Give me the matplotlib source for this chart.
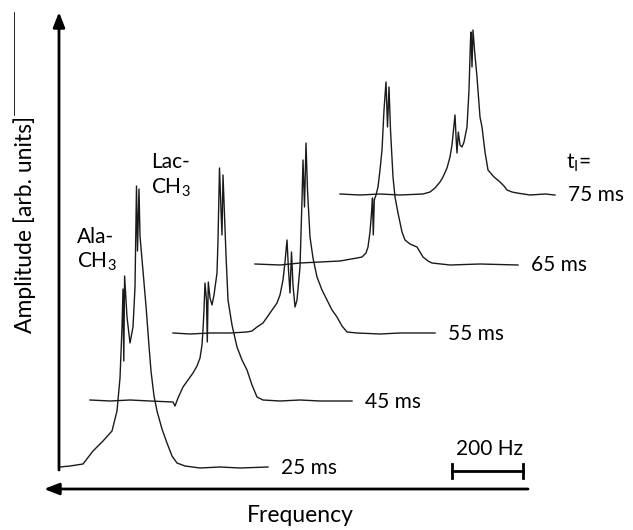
import matplotlib
matplotlib.use("Agg")
import matplotlib.pyplot as plt

plt.rcParams['font.family'] = ['Lato', 'DejaVu Sans']

# spectra, each one: frequency positions and amplitude above its own baseline
freq_25 = [60, 70, 83, 93, 103, 112, 117, 120, 122, 123, 123.8, 124.6, 127, 130, 133, 135,
           136.5, 137.5, 139, 140, 143, 146, 149, 151, 154, 157, 162, 167, 172, 177, 185,
           200, 220, 240, 268]
amp_25 = [0, 1, 3, 16, 26, 36, 56, 89, 139, 178, 106, 191, 150, 124, 140, 180,
          281, 216, 278, 231, 196, 161, 121, 96, 71, 56, 38, 24, 11, 4, 1,
          -1, 0, -1, 0]

freq_45 = [90, 110, 130, 150, 173, 175, 178, 183, 188, 193, 197, 200, 202, 203, 204, 205,
           206.5, 207.3, 208.3, 210, 212, 214, 217, 218, 219.5, 221, 222, 223, 224.5, 226,
           228, 232, 237, 242, 247, 252, 257, 263, 280, 300, 320, 352]
amp_45 = [1, 0, 1, 0, -1, -5, 3, 14, 21, 28, 35, 43, 56, 71, 91, 118,
          101, 59, 119, 103, 96, 106, 128, 161, 233, 191, 166, 226, 186, 146,
          101, 76, 54, 41, 31, 16, 4, 1, 0, 1, 0, 0]

freq_55 = [173, 190, 210, 230, 247, 252, 257, 263, 270, 277, 280, 283, 285, 287, 288.5,
           290, 291.5, 293, 295, 297, 300, 302, 303, 304.5, 306, 307.5, 310, 313, 317,
           322, 327, 332, 337, 342, 347, 357, 380, 400, 435]
amp_55 = [0, -1, 0, 0, 1, 2, 6, 10, 20, 30, 38, 53, 71, 93, 63,
          40, 81, 48, 26, 33, 66, 133, 173, 126, 190, 143, 96, 75, 56,
          43, 33, 23, 16, 7, 1, 0, -1, 0, 0]

freq_65 = [255, 280, 300, 320, 340, 357, 362, 366, 368, 370, 371.5, 372.5, 373.3, 374.3,
           376, 378, 380, 382, 384, 386, 387.5, 389, 390.5, 393, 395, 398, 402, 405, 410,
           417, 420, 423, 428, 432, 450, 480, 518]
amp_65 = [0, -1, 1, 2, 3, 6, 7, 11, 17, 32, 51, 66, 29, 64,
          69, 77, 94, 114, 154, 182, 137, 177, 134, 87, 67, 51, 32, 24, 20,
          17, 12, 7, 3, 1, -1, 0, -1]

freq_75 = [340, 360, 380, 400, 423, 430, 435, 440, 443, 447, 450, 452, 454, 455, 456.2,
           457, 458.3, 460, 462, 464, 467, 469, 470.5, 471, 472, 473, 474.5, 477, 480,
           482, 485, 488, 494, 500, 504, 507, 512, 517, 530, 545, 555]
amp_75 = [0, -1, 0, -1, 0, 2, 6, 12, 17, 26, 37, 49, 69, 79, 54,
          41, 62, 49, 47, 52, 67, 104, 154, 162, 127, 164, 144, 117, 77,
          67, 42, 24, 17, 12, 8, 4, 2, 1, -1, 0, -1]

spectra = [(freq_25, amp_25), (freq_45, amp_45), (freq_55, amp_55),
           (freq_65, amp_65), (freq_75, amp_75)]
baselines = [63, 129, 197, 266, 336]
delays = ['25 ms', '45 ms', '55 ms', '65 ms', '75 ms']

fig = plt.figure(figsize=(6.33, 5.30), dpi=100)
ax = fig.add_axes([0, 0, 1, 1])
ax.set_xlim(0, 633)
ax.set_ylim(0, 530)
ax.axis('off')

for (fr, am), base, lab in zip(spectra, baselines, delays):
    ax.plot(fr, [base + a for a in am], color='#1a1a1a', lw=1.0,
            solid_joinstyle='round')
    ax.text(fr[-1] + 13, base - 1, lab, fontsize=15, va='center', ha='left')

ax.text(566, 367, 't$_\\mathregular{I}$=', fontsize=15, va='center', ha='left')

# peak labels
ax.text(77, 293, 'Ala-', fontsize=15, va='center')
ax.text(77, 268, 'CH$_\\mathregular{3}$', fontsize=15, va='center')
ax.text(151, 368, 'Lac-', fontsize=15, va='center')
ax.text(151, 342, 'CH$_\\mathregular{3}$', fontsize=15, va='center')

# axis arrows
ax.annotate('', xy=(59, 518), xytext=(59, 60),
            arrowprops=dict(arrowstyle='-|>,head_length=0.9,head_width=0.35',
                            lw=2, color='black', shrinkA=0, shrinkB=0))
ax.annotate('', xy=(44, 41), xytext=(528, 41),
            arrowprops=dict(arrowstyle='-|>,head_length=0.9,head_width=0.35',
                            lw=2, color='black', shrinkA=0, shrinkB=0))
ax.plot([14, 14], [518, 415], color='black', lw=0.6)

ax.text(25, 306, 'Amplitude [arb. units]', fontsize=16.5, rotation=90,
        ha='center', va='center')
ax.text(300, 14, 'Frequency', fontsize=16.5, ha='center', va='center')

# scale bar
ax.plot([452, 523], [59, 59], color='black', lw=2)
ax.plot([452, 452], [52, 66], color='black', lw=2)
ax.plot([523, 523], [52, 66], color='black', lw=2)
ax.text(489, 81, '200 Hz', fontsize=15, ha='center', va='center')

fig.savefig('out.png', dpi=100)
